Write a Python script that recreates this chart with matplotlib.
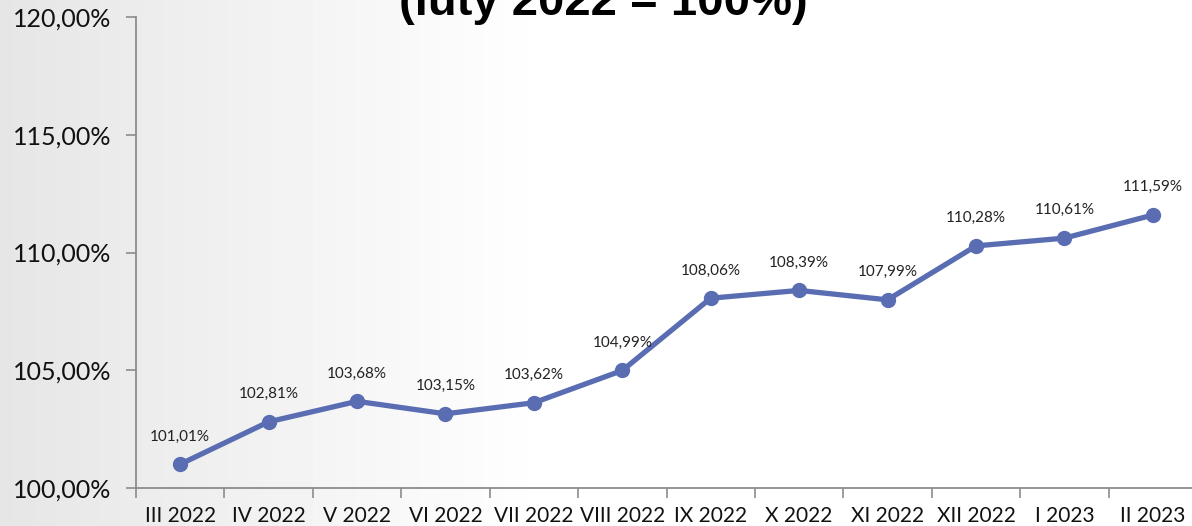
import numpy as np
import matplotlib.pyplot as plt
from matplotlib.ticker import FixedLocator, FuncFormatter

months = ["III 2022", "IV 2022", "V 2022", "VI 2022", "VII 2022", "VIII 2022",
          "IX 2022", "X 2022", "XI 2022", "XII 2022", "I 2023", "II 2023"]
values = [101.01, 102.81, 103.68, 103.15, 103.62, 104.99,
          108.06, 108.39, 107.99, 110.28, 110.61, 111.59]
yticks = [100, 105, 110, 115, 120]
title = "(luty 2022 = 100%)"

line_color = "#5a6db3"
plt.rcParams['font.family'] = ['Lato', 'DejaVu Sans']

fig = plt.figure(figsize=(11.92, 5.26), dpi=100)

# grey-to-white background gradient on the left side
bg = fig.add_axes([0, 0, 1, 1], zorder=-10)
g = np.clip(0.90 + 0.10 * np.linspace(0, 1, 1192) / 0.46, 0, 1)
bg.imshow(np.tile(g, (10, 1)), cmap="gray", vmin=0, vmax=1, aspect="auto",
          extent=[0, 1, 0, 1])
bg.axis("off")

ax = fig.add_axes([136 / 1192, 1 - 488 / 526, 1061 / 1192, 471 / 526])
ax.patch.set_alpha(0)

x = np.arange(len(months)) + 0.5
ax.plot(x, values, color=line_color, linewidth=3.8, marker="o",
        markersize=10, zorder=3, clip_on=False)

for xi, v in zip(x, values):
    ax.annotate(f"{v:.2f}%".replace(".", ","), (xi, v), xytext=(0, 20),
                textcoords="offset points", ha="center", va="center",
                fontsize=11, color="#222222")

ax.set_xlim(0, len(months))
ax.set_ylim(100, 120)

ax.xaxis.set_major_locator(FixedLocator(np.arange(len(months) + 1)))
ax.xaxis.set_major_formatter(FuncFormatter(lambda v, p: ""))
ax.xaxis.set_minor_locator(FixedLocator(x))
ax.set_xticklabels(months, minor=True)
ax.tick_params(axis="x", which="minor", length=0, pad=13, labelsize=15,
               labelcolor="#111111")
ax.tick_params(axis="x", which="major", length=7, width=1.2, color="#8c8c8c")

ax.set_yticks(yticks)
ax.yaxis.set_major_formatter(FuncFormatter(lambda v, p: f"{v:.2f}%".replace(".", ",")))
ax.tick_params(axis="y", length=7, width=1.2, color="#8c8c8c", pad=11,
               labelsize=18, labelcolor="#111111")

for s in ["top", "right"]:
    ax.spines[s].set_visible(False)
for s in ["left", "bottom"]:
    ax.spines[s].set_color("#8c8c8c")
    ax.spines[s].set_linewidth(1.3)

# title is cut by the top edge in the source picture
fig.text(0.506, 1 - 15 / 526, title, ha="center", va="baseline",
         fontsize=34, fontweight="bold", family="Liberation Sans", color="black")

fig.savefig("out.png", dpi=100)
